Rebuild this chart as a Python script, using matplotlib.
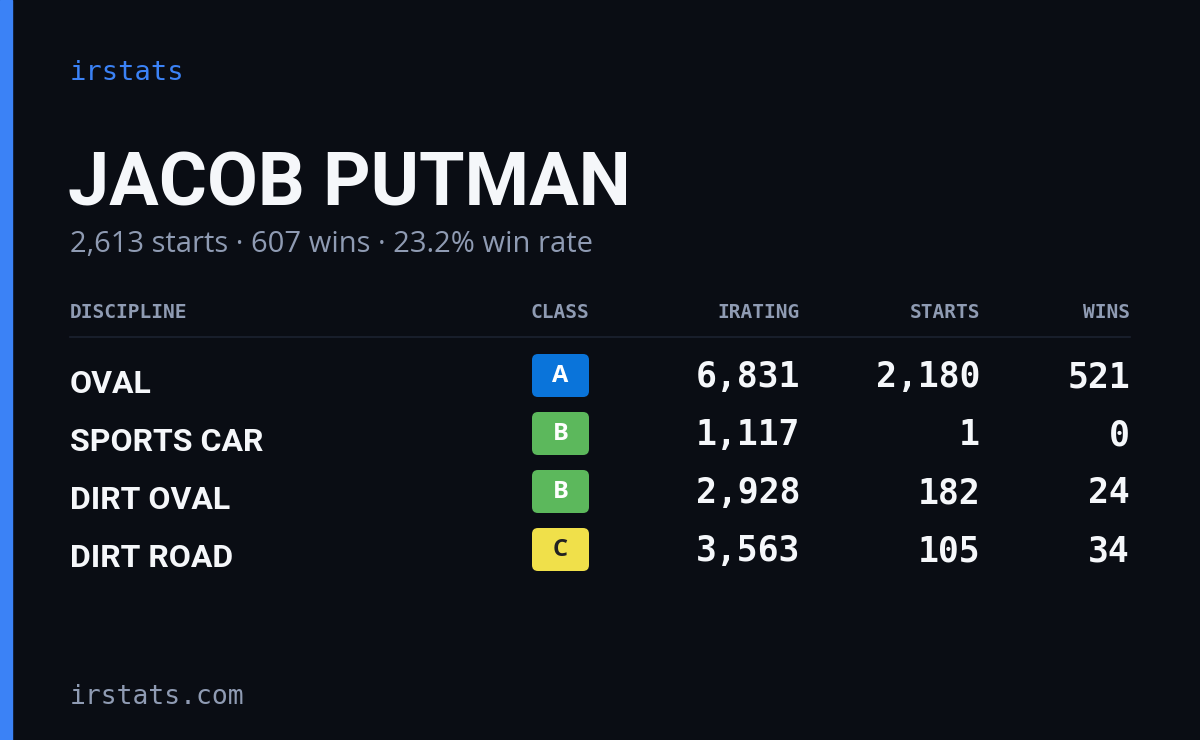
import matplotlib
matplotlib.use("Agg")
import matplotlib.pyplot as plt
from matplotlib.patches import FancyBboxPatch, Rectangle

brand = "irstats"
name = "JACOB PUTMAN"
summary = "2,613 starts · 607 wins · 23.2% win rate"
headers = ["DISCIPLINE", "CLASS", "IRATING", "STARTS", "WINS"]
disciplines = ["OVAL", "SPORTS CAR", "DIRT OVAL", "DIRT ROAD"]
classes = ["A", "B", "B", "C"]
iratings = [6831, 1117, 2928, 3563]
starts = [2180, 1, 182, 105]
wins = [521, 0, 24, 34]
footer = "irstats.com"

W, H = 1200, 740
fig = plt.figure(figsize=(12, 7.4), dpi=100)
fig.patch.set_facecolor("#0a0d14")
ax = fig.add_axes([0, 0, 1, 1])
ax.set_xlim(0, W); ax.set_ylim(H, 0); ax.axis("off")
ax.add_patch(Rectangle((0, 0), 12, H, color="#3b82f6"))

mono = ["DejaVu Sans Mono"]
cond = ["Roboto", "DejaVu Sans"]
sans = ["Open Sans", "DejaVu Sans"]
grey = "#8f9bb3"
white = "#f5f7fa"

ax.text(70, 73, brand, color="#3b82f6", fontsize=19.5, family=mono, va="center")
ax.text(68, 185, name, color=white, fontsize=53, family=cond, weight="bold", va="center")
ax.text(70, 245, summary, color=grey, fontsize=21, family=sans, va="center")

hx = [70, 560, 800, 980, 1130]
ha = ["left", "center", "right", "right", "right"]
for x, h, a in zip(hx, headers, ha):
    ax.text(x, 313, h, color=grey, fontsize=14, family=mono, weight="bold", ha=a, va="center")
ax.plot([70, 1130], [337, 337], color="#1c2230", lw=1.2)

ccol = {"A": ("#0a74da", "white"), "B": ("#5cb85c", "white"), "C": ("#f0e04a", "#222222")}
for i, (d, c, r, s, w) in enumerate(zip(disciplines, classes, iratings, starts, wins)):
    y = 376 + i * 58
    ax.text(70, y + 8, d, color=white, fontsize=23, family=cond, weight="bold", va="center")
    bg, fg = ccol[c]
    ax.add_patch(FancyBboxPatch((532, y - 22), 57, 43, boxstyle="round,pad=0,rounding_size=6",
                                fc=bg, ec="none"))
    ax.text(560.5, y, c, color=fg, fontsize=17, weight="bold", family=sans, ha="center", va="center")
    for x, v in zip(hx[2:], [r, s, w]):
        ax.text(x, y + 1, f"{v:,}", color=white, fontsize=25, family=mono, weight="bold",
                ha="right", va="center")

ax.text(70, 697, footer, color=grey, fontsize=19, family=mono, va="center")
fig.savefig("out.png", dpi=100, facecolor=fig.get_facecolor())
